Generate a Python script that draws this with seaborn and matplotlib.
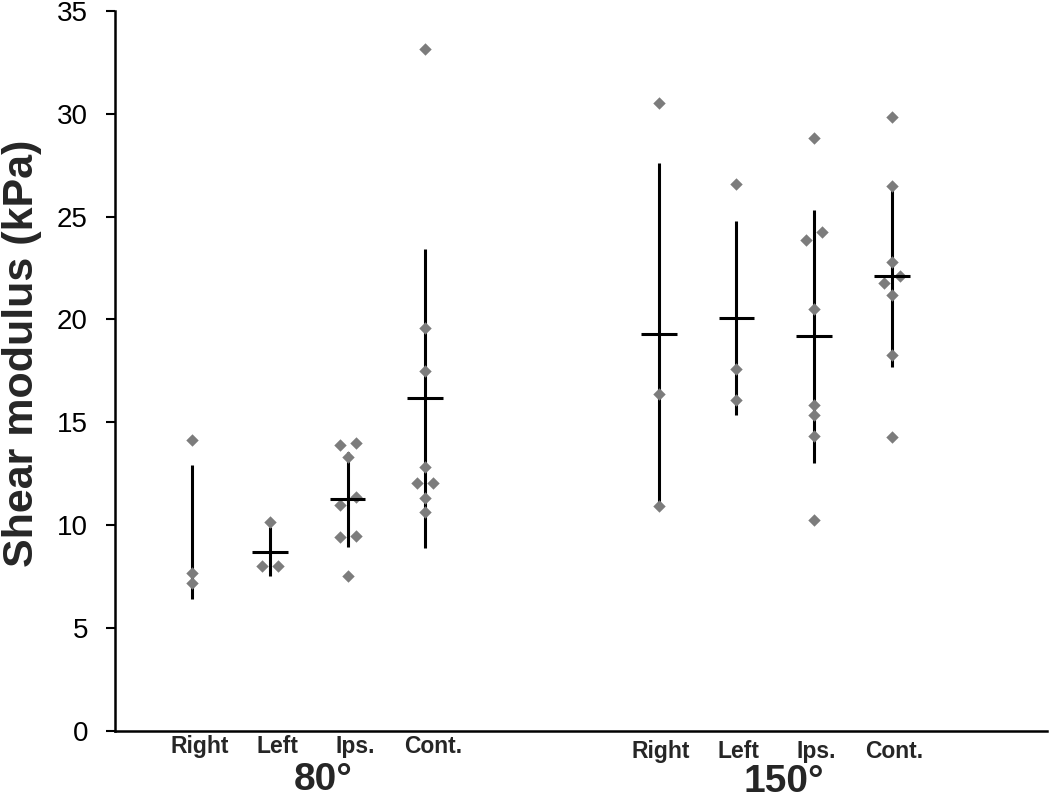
import numpy as np
import pandas as pd
import matplotlib
matplotlib.use("Agg")
import matplotlib.pyplot as plt
import seaborn as sns

# ---------------- data (kPa) ----------------
angles = ["80°", "150°"]
sides = ["Right", "Left", "Ips.", "Cont."]

right_80 = [14.15, 7.69, 7.17]
left_80 = [10.15, 8.01, 8.01]
ips_80 = [14.00, 13.88, 13.33, 11.38, 10.96, 9.47, 9.44, 7.52]
cont_80 = [33.13, 19.58, 17.48, 12.83, 12.06, 12.06, 11.34, 10.66]
right_150 = [30.53, 16.39, 10.92]
left_150 = [26.57, 17.60, 16.07]
ips_150 = [28.83, 24.27, 23.87, 20.53, 15.86, 15.36, 14.32, 10.23]
cont_150 = [29.85, 26.46, 22.77, 22.09, 21.77, 21.21, 18.27, 14.27]

means = [9.67, 8.72, 11.25, 16.16, 19.31, 20.05, 19.17, 22.09]
sds = [3.24, 1.18, 2.32, 7.26, 8.30, 4.71, 6.13, 4.40]
show_mean = [False, True, True, True, True, True, True, True]

groups = [right_80, left_80, ips_80, cont_80, right_150, left_150, ips_150, cont_150]

# ---------------- layout helpers ----------------
def dodge(vals, thresh=0.45, step=0.205):
    vals = np.asarray(vals, dtype=float)
    order = np.argsort(vals)
    offs = np.zeros(len(vals))
    clusters, cur = [], [order[0]]
    for a, b in zip(order[:-1], order[1:]):
        if vals[b] - vals[a] < thresh:
            cur.append(b)
        else:
            clusters.append(cur)
            cur = [b]
    clusters.append(cur)
    for cl in clusters:
        n = len(cl)
        offs[cl] = (np.arange(n) - (n - 1) / 2) * step
    return offs

rows = []
positions = []
for k, vals in enumerate(groups):
    gi, si = divmod(k, 4)
    pos = gi * 6 + si
    positions.append(pos)
    offs = dodge(vals)
    for v, o in zip(vals, offs):
        rows.append({"angle": angles[gi], "side": sides[si], "x": pos + o, "value": v})
df = pd.DataFrame(rows)

# ---------------- figure ----------------
sns.set_style("white")
plt.rcParams["font.family"] = ["Liberation Sans", "DejaVu Sans"]

fig = plt.figure(figsize=(10.5, 8.07), dpi=100)
ax = fig.add_axes([0.1095, 0.0942, 0.8875, 0.8925])

positions = np.array(positions)
means_a = np.array(means)
sds_a = np.array(sds)

ax.errorbar(positions, means_a, yerr=sds_a, fmt="none", ecolor="black",
            elinewidth=2.2, capsize=0, zorder=2)

sns.scatterplot(data=df, x="x", y="value", marker="D", color="#7c7c7c",
                s=40, linewidth=0, ax=ax, zorder=3, legend=False)

mpos = positions[np.array(show_mean)]
mval = means_a[np.array(show_mean)]
ax.hlines(mval, mpos - 0.23, mpos + 0.23, colors="black", linewidth=2.2, zorder=4)

ax.set_xlim(-0.99, 10.99)
ax.set_ylim(0, 35)
ax.set_yticks(range(0, 36, 5))
ax.set_xticks([])
ax.set_xlabel("")
ax.set_ylabel("Shear modulus (kPa)", fontsize=31, fontweight="bold")
ax.yaxis.set_label_coords(-0.078, 0.525)

for s in ["top", "right"]:
    ax.spines[s].set_visible(False)
for s in ["left", "bottom"]:
    ax.spines[s].set_color("black")
    ax.spines[s].set_linewidth(1.8)

ax.tick_params(axis="y", direction="out", length=6.5, width=1.5, pad=13,
               labelsize=20, colors="black", left=True)

# category and group labels
trans = ax.get_xaxis_transform()
label_y = [-0.0218, -0.029]
label_dx = [0.1, 0.03]
group_y = [-0.0685, -0.0715]
group_dx = [0.18, 0.11]
for gi, ang in enumerate(angles):
    for si, sd_name in enumerate(sides):
        p = gi * 6 + si
        ax.text(p + label_dx[gi], label_y[gi], sd_name, transform=trans,
                ha="center", va="center", fontsize=16.5, fontweight="bold")
    mid = gi * 6 + 1.5
    ax.text(mid + group_dx[gi], group_y[gi], ang, transform=trans,
            ha="center", va="center", fontsize=28, fontweight="bold")

fig.savefig("out.png", dpi=100)
